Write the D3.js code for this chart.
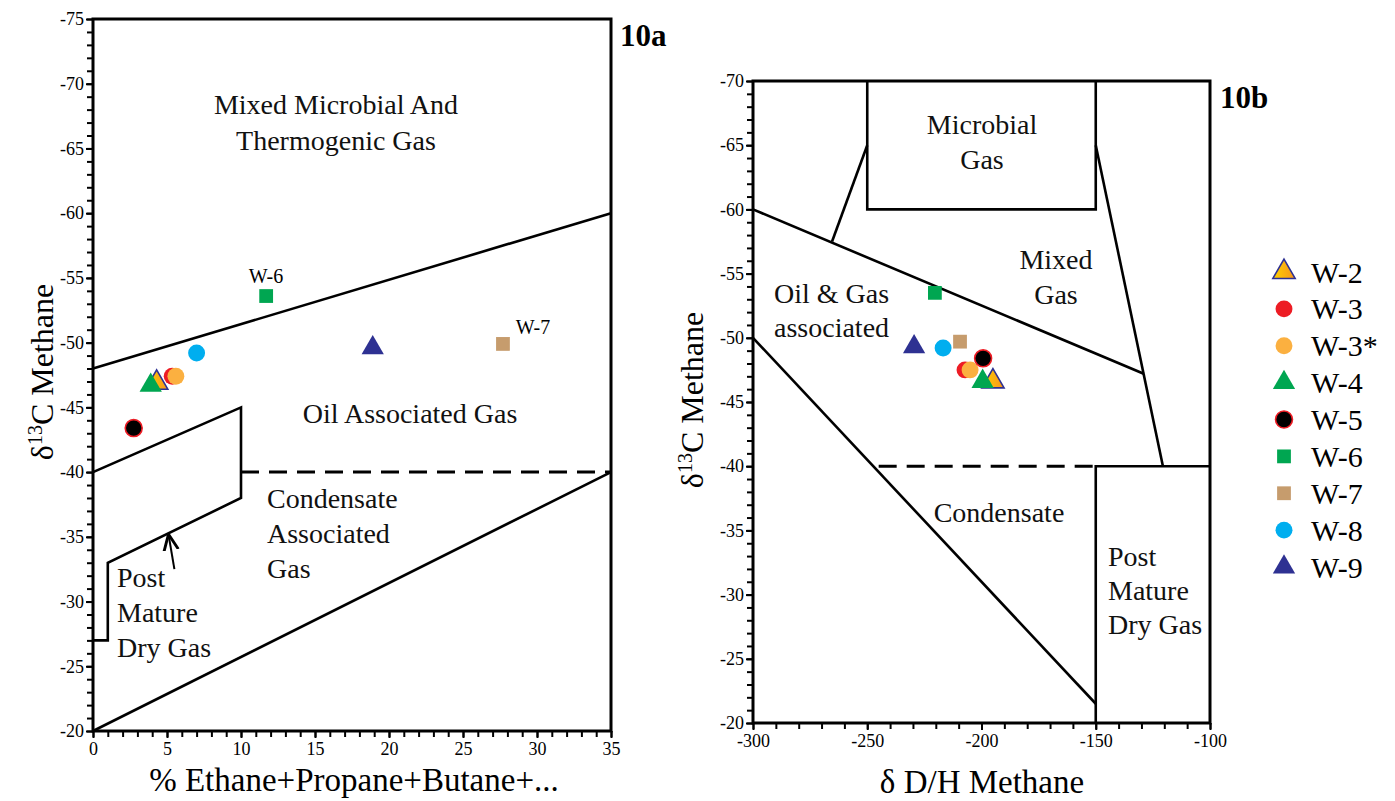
<!DOCTYPE html>
<html>
<head>
<meta charset="utf-8">
<script src="https://cdn.jsdelivr.net/npm/d3@7"></script>
<style>
    body { margin: 0; background: #fff; }
    svg { display: block; font-family: "Liberation Serif", "Times New Roman", serif; }
    .axis { font-family: "Liberation Serif", "Times New Roman", serif; }
    .axis path, .axis line { stroke: #000; }
    .axis text { font-size: 18px; fill: #000; }
    .region { font-size: 28px; fill: #111; }
</style>
</head>
<body>
<svg id="chart" width="1395" height="801"></svg>
<script>
/*------------------- data --------------------*/
const wells = ["W-2", "W-3", "W-3*", "W-4", "W-5", "W-6", "W-7", "W-8", "W-9"];
const wellShapes = ["triangle", "circle", "circle", "triangle", "circle", "square", "square", "circle", "triangle"];
const wellColors = ["url(#w2grad)", "#ed1c24", "#fbb040", "#00a651", "#000000", "#00a651", "#c69c6d", "#00aeef", "#2e3192"];

// 10a: % wet gas vs d13C methane
const ethanePct = [4.3, 5.35, 5.6, 3.9, 2.75, 11.7, 27.7, 7.0, 18.9];
const c13Left = [-46.9, -47.4, -47.4, -46.7, -43.4, -53.6, -49.9, -49.2, -49.6];
// 10b: dD methane vs d13C methane
const dhMethane = [-195, -207.2, -205, -199.5, -199.3, -220.4, -209.4, -216.8, -229.5];
const c13Right = [-46.6, -47.5, -47.5, -46.6, -48.4, -53.5, -49.7, -49.2, -49.3];

// tick values
const leftXTicks = [0, 5, 10, 15, 20, 25, 30, 35];
const leftYTicks = [-75, -70, -65, -60, -55, -50, -45, -40, -35, -30, -25, -20];
const rightXTicks = [-300, -250, -200, -150, -100];
const rightYTicks = [-70, -65, -60, -55, -50, -45, -40, -35, -30, -25, -20];

// field boundaries (data units)
const leftUpper = [[0, -48], [35, -60]];
const leftLower = [[0, -20], [35, -40]];
const leftDashed = [[10, -40], [35, -40]];
const leftPostMature = [[0, -40], [10, -45], [10, -38], [1, -33], [1, -27], [0, -27]];
const leftArrow = [[5.5, -32.5], [5.1, -35.2]];

const rightMicrobialBox = [[-250, -70], [-250, -60], [-150, -60], [-150, -70]];
const rightMicrobialLeft = [[-250, -65], [-265.4, -57.5]];
const rightOilUpper = [[-300, -60], [-129, -47.2]];
const rightMixedRight = [[-150, -65], [-120.6, -40]];
const rightCondLine = [[-300, -50], [-150, -21.5]];
const rightDashed = [[-245, -40], [-150, -40]];
const rightPostMature = [[-100, -40], [-150, -40], [-150, -20]];

/*------------------- setup --------------------*/
const svg = d3.select("#chart");

const defs = svg.append("defs");
const grad = defs.append("linearGradient").attr("id", "w2grad")
    .attr("x1", "0%").attr("x2", "100%").attr("y1", "0%").attr("y2", "0%");
grad.append("stop").attr("offset", "0%").attr("stop-color", "#ffd200");
grad.append("stop").attr("offset", "100%").attr("stop-color", "#f7941d");

defs.append("marker").attr("id", "arrowhead")
    .attr("viewBox", "0 0 10 10").attr("refX", 9).attr("refY", 5)
    .attr("markerWidth", 9).attr("markerHeight", 9)
    .attr("orient", "auto")
    .append("path").attr("d", "M0,1 L9,5 L0,9")
    .attr("fill", "none").attr("stroke", "#000").attr("stroke-width", 1.6);

const symbolFor = {
    triangle: d3.symbol().type(d3.symbolTriangle).size(215),
    circle: d3.symbol().type(d3.symbolCircle).size(225),
    square: d3.symbol().type(d3.symbolSquare).size(190)
};

function styleMarker(sel) {
    sel.attr("d", i => symbolFor[wellShapes[i]]())
        .attr("fill", i => wellColors[i])
        .attr("stroke", i => i === 0 ? "#2e3192" : (i === 4 ? "#ed1c24" : "none"))
        .attr("stroke-width", 1.6);
}

const plain = d => String(d);   // keep the ascii hyphen, like the original

function drawPanel(opt) {
    const x = d3.scaleLinear().domain(opt.xDomain).range(opt.xRange);
    const y = d3.scaleLinear().domain(opt.yDomain).range(opt.yRange);
    const g = svg.append("g");

    const line = d3.line().x(d => x(d[0])).y(d => y(d[1]));

    // minor ticks
    g.append("g").attr("class", "axis")
        .attr("transform", "translate(" + opt.xRange[0] + ",0)")
        .call(d3.axisLeft(y).tickValues(d3.range(opt.yDomain[0], opt.yDomain[1] + 0.5, 1))
            .tickSize(6).tickFormat(""))
        .call(a => a.select(".domain").remove())
        .selectAll("line").attr("stroke-width", 2);
    g.append("g").attr("class", "axis")
        .attr("transform", "translate(0," + opt.yRange[1] + ")")
        .call(d3.axisBottom(x).tickValues(d3.range(opt.xDomain[0], opt.xDomain[1] + 0.5, opt.xMinor))
            .tickSize(6).tickFormat(""))
        .call(a => a.select(".domain").remove())
        .selectAll("line").attr("stroke-width", 2);

    // major ticks with labels
    g.append("g").attr("class", "axis")
        .attr("transform", "translate(" + opt.xRange[0] + ",0)")
        .call(d3.axisLeft(y).tickValues(opt.yTicks).tickSize(7).tickPadding(2).tickFormat(plain))
        .call(a => a.select(".domain").remove())
        .selectAll("line").attr("stroke-width", 2);
    g.append("g").attr("class", "axis")
        .attr("transform", "translate(0," + opt.yRange[1] + ")")
        .call(d3.axisBottom(x).tickValues(opt.xTicks).tickSize(7).tickPadding(4).tickFormat(plain))
        .call(a => a.select(".domain").remove())
        .selectAll("line").attr("stroke-width", 2);

    // frame
    g.append("rect")
        .attr("x", x(opt.xDomain[0])).attr("y", y(opt.yDomain[0]))
        .attr("width", x(opt.xDomain[1]) - x(opt.xDomain[0]))
        .attr("height", y(opt.yDomain[1]) - y(opt.yDomain[0]))
        .attr("fill", "none").attr("stroke", "#000").attr("stroke-width", 3);

    // boundaries
    opt.lines.forEach(l => {
        g.append("path").datum(l.pts)
            .attr("d", line)
            .attr("fill", "none")
            .attr("stroke", "#000")
            .attr("stroke-width", l.w || 2.6)
            .attr("stroke-dasharray", l.dash || null)
            .attr("marker-end", l.arrow ? "url(#arrowhead)" : null);
    });

    // region labels
    opt.labels.forEach(t => {
        const txt = g.append("text").attr("class", "region")
            .attr("x", t.x).attr("y", t.y)
            .attr("text-anchor", t.anchor || "middle");
        t.lines.forEach((s, k) => {
            txt.append("tspan").attr("x", t.x).attr("dy", k === 0 ? "0.35em" : t.lh + "px").text(s);
        });
    });

    // points
    g.selectAll(".pt")
        .data(d3.range(wells.length))
        .enter()
        .append("path")
        .attr("class", "pt")
        .attr("transform", i => "translate(" + x(opt.xs[i]) + "," + y(opt.ys[i]) + ")")
        .call(styleMarker);

    // panel title
    g.append("text").attr("x", opt.title.x).attr("y", opt.title.y)
        .attr("font-size", 31).attr("font-weight", "bold").text(opt.title.text);

    // axis titles
    const yl = g.append("text")
        .attr("transform", "translate(" + opt.yLabelX + "," + opt.yLabelY + ") rotate(-90)")
        .attr("text-anchor", "middle").attr("font-size", 32);
    yl.append("tspan").text("δ");
    yl.append("tspan").attr("font-size", 20).attr("dy", -11).text("13");
    yl.append("tspan").attr("dy", 11).text("C Methane");

    g.append("text")
        .attr("x", opt.xLabelX).attr("y", opt.xLabelY)
        .attr("text-anchor", "middle").attr("font-size", 33)
        .text(opt.xLabel);

    return { x, y };
}

/*------------------- 10a --------------------*/
drawPanel({
    xDomain: [0, 35], xRange: [93, 611],
    yDomain: [-75, -20], yRange: [19, 731],
    xTicks: leftXTicks, yTicks: leftYTicks, xMinor: 1,
    xs: ethanePct, ys: c13Left,
    lines: [
        { pts: leftUpper }, { pts: leftLower },
        { pts: leftDashed, dash: "18,10", w: 3 },
        { pts: leftPostMature },
        { pts: leftArrow, w: 2, arrow: true }
    ],
    labels: [
        { x: 336, y: 104, lh: 36, lines: ["Mixed Microbial And", "Thermogenic Gas"] },
        { x: 410, y: 413, lh: 36, lines: ["Oil Associated Gas"] },
        { x: 267, y: 498, lh: 35, anchor: "start", lines: ["Condensate", "Associated", "Gas"] },
        { x: 117, y: 577, lh: 35, anchor: "start", lines: ["Post", "Mature", "Dry Gas"] }
    ],
    title: { x: 620, y: 46, text: "10a" },
    yLabelX: 53, yLabelY: 372,
    xLabelX: 354, xLabelY: 791, xLabel: "% Ethane+Propane+Butane+..."
});

// point tags on 10a
svg.append("text").attr("x", 266).attr("y", 283).attr("text-anchor", "middle")
    .attr("font-size", 20).text("W-6");
svg.append("text").attr("x", 533).attr("y", 334).attr("text-anchor", "middle")
    .attr("font-size", 20).text("W-7");

/*------------------- 10b --------------------*/
drawPanel({
    xDomain: [-300, -100], xRange: [753, 1210],
    yDomain: [-70, -20], yRange: [81, 723],
    xTicks: rightXTicks, yTicks: rightYTicks, xMinor: 10,
    xs: dhMethane, ys: c13Right,
    lines: [
        { pts: rightMicrobialBox }, { pts: rightMicrobialLeft },
        { pts: rightOilUpper }, { pts: rightMixedRight },
        { pts: rightCondLine },
        { pts: rightDashed, dash: "18,10", w: 3 },
        { pts: rightPostMature }
    ],
    labels: [
        { x: 982, y: 124, lh: 35, lines: ["Microbial", "Gas"] },
        { x: 1056, y: 259, lh: 35, lines: ["Mixed", "Gas"] },
        { x: 774, y: 293, lh: 34, anchor: "start", lines: ["Oil & Gas", "associated"] },
        { x: 999, y: 512, lh: 34, lines: ["Condensate"] },
        { x: 1108, y: 556, lh: 34, anchor: "start", lines: ["Post", "Mature", "Dry Gas"] }
    ],
    title: { x: 1220, y: 108, text: "10b" },
    yLabelX: 703, yLabelY: 400,
    xLabelX: 982, xLabelY: 793, xLabel: "δ D/H Methane"
});

/*------------------- legend --------------------*/
const legendY = d3.scalePoint().domain(wells).range([272, 567]);
const legend = svg.append("g");
legend.selectAll(".lm")
    .data(d3.range(wells.length))
    .enter()
    .append("path")
    .attr("class", "lm")
    .attr("transform", i => "translate(1284," + legendY(wells[i]) + ")")
    .call(styleMarker);
legend.selectAll(".lt")
    .data(wells)
    .enter()
    .append("text")
    .attr("x", 1311)
    .attr("y", d => legendY(d))
    .attr("dy", "0.35em")
    .attr("font-size", 30)
    .text(d => d);
</script>
</body>
</html>
